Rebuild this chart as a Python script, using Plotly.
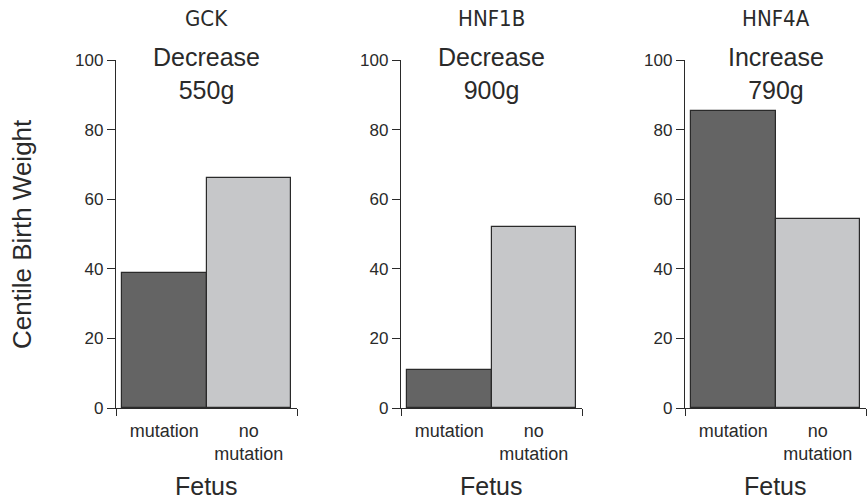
import plotly.graph_objects as go

# data
genes = ["GCK", "HNF1B", "HNF4A"]
effects = ["Decrease<br>550g", "Decrease<br>900g", "Increase<br>790g"]
groups = ["mutation", "no<br>mutation"]
mutation_values = [38.8, 10.9, 85.3]
no_mutation_values = [66.1, 52.0, 54.3]
bar_colors = ["#646464", "#c6c7c9"]

W, H = 867, 500
ink = "#2a2a2a"
font_main = "Liberation Sans, Arial, Helvetica, sans-serif"
font_narrow = "DejaVu Sans Condensed, Liberation Sans Narrow, Arial Narrow, sans-serif"

x_lo, x_hi = -0.571, 1.571
domains = [(116, 297), (401, 582), (685, 866)]

fig = go.Figure()
annotations = []

for i, gene in enumerate(genes):
    n = "" if i == 0 else str(i + 1)
    fig.add_trace(go.Bar(
        x=[0, 1],
        y=[mutation_values[i], no_mutation_values[i]],
        width=1,
        marker=dict(color=bar_colors, line=dict(color=ink, width=1.2)),
        xaxis="x" + n, yaxis="y" + n,
        showlegend=False, hoverinfo="x+y",
    ))
    d0, d1 = domains[i]
    fig.layout["xaxis" + n] = dict(
        domain=[d0 / W, d1 / W], range=[x_lo, x_hi], anchor="y" + n,
        tickvals=[0, 1], ticktext=groups,
        ticks="outside", ticklen=6, tickcolor="rgba(0,0,0,0)",
        minor=dict(tickvals=[x_lo, x_hi], ticks="outside", ticklen=7,
                   tickcolor=ink, tickwidth=1.3),
        showline=True, linecolor=ink, linewidth=1.3,
        showgrid=False, zeroline=False, fixedrange=True,
        tickfont=dict(size=18, color=ink, family=font_main),
    )
    fig.layout["yaxis" + n] = dict(
        domain=[0, 1], range=[0, 100], anchor="x" + n,
        tickvals=[0, 20, 40, 60, 80, 100],
        ticks="outside", ticklen=8, tickcolor=ink, tickwidth=1.3,
        showline=True, linecolor=ink, linewidth=1.3,
        showgrid=False, zeroline=False, fixedrange=True,
        tickfont=dict(size=17, color=ink, family=font_main),
    )
    # gene name on top
    annotations.append(dict(
        text=gene, xref="x" + n + " domain", yref="paper",
        x=0.5, y=(408 - 18) / 348, xanchor="center", yanchor="middle",
        showarrow=False, font=dict(size=22, color=ink, family=font_narrow),
    ))
    # effect text
    annotations.append(dict(
        text=effects[i], xref="x" + n, yref="paper",
        x=0.5, y=(408 - 73) / 348, xanchor="center", yanchor="middle",
        showarrow=False, font=dict(size=25, color=ink, family=font_main),
    ))
    # x label
    annotations.append(dict(
        text="Fetus", xref="x" + n + " domain", yref="paper",
        x=0.5, y=(408 - 486) / 348, xanchor="center", yanchor="middle",
        showarrow=False, font=dict(size=25, color=ink, family=font_main),
    ))

annotations.append(dict(
    text="Centile Birth Weight", xref="paper", yref="paper",
    x=22 / W, y=0.5, xanchor="center", yanchor="middle", textangle=-90,
    showarrow=False, font=dict(size=26, color=ink, family=font_main),
))

fig.update_layout(
    width=W, height=H,
    margin=dict(l=0, r=0, t=60, b=92),
    paper_bgcolor="white", plot_bgcolor="white",
    bargap=0,
    annotations=annotations,
    font=dict(family=font_main, color=ink),
)

# drop the browser's default page margin so the figure sits at the window corner
fig.write_html("out.html", config={"displayModeBar": False},
               post_script="document.body.style.margin='0';")
